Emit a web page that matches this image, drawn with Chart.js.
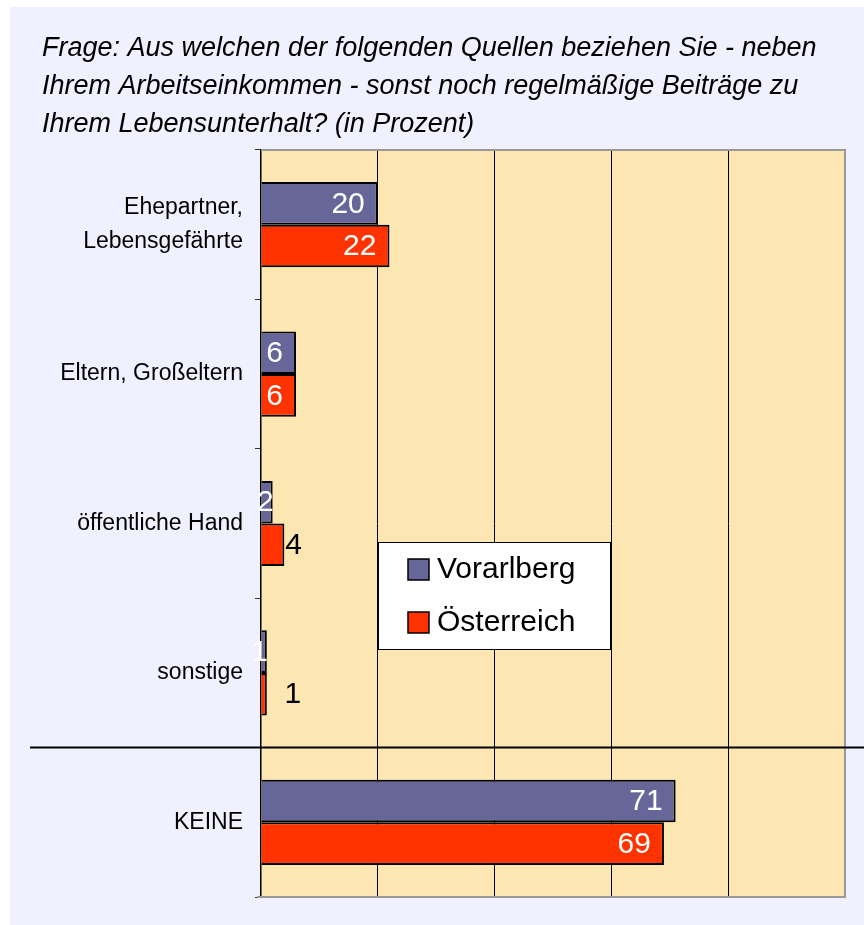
<!DOCTYPE html>
<html>
<head>
<meta charset="utf-8">
<script src="https://cdn.jsdelivr.net/npm/chart.js@4.4.0/dist/chart.umd.min.js"></script>
<style>
  html, body { margin: 0; padding: 0; background: #fff; }
  #chart { display: block; }
</style>
</head>
<body>
<canvas id="chart" width="864" height="925"></canvas>
<script>
// Daten
const titleLines = [
  'Frage: Aus welchen der folgenden Quellen beziehen Sie - neben',
  'Ihrem Arbeitseinkommen - sonst noch regelmäßige Beiträge zu',
  'Ihrem Lebensunterhalt? (in Prozent)'
];
const categories = [['Ehepartner,', 'Lebensgefährte'], 'Eltern, Großeltern', 'öffentliche Hand', 'sonstige', 'KEINE'];
const seriesNames = ['Vorarlberg', 'Österreich'];
const vorarlberg = [20, 6, 2, 1, 71];
const oesterreich = [22, 6, 4, 1, 69];
const xTicks = [0, 20, 40, 60, 80, 100];

const FONT = '"Liberation Sans", Arial, sans-serif';
const colors = ['#666699', '#FF3300'];

// Hintergrund + Plotfläche
const background = {
  id: 'background',
  beforeDraw(chart) {
    const { ctx, chartArea: a } = chart;
    ctx.save();
    ctx.fillStyle = '#fff';
    ctx.fillRect(0, 0, chart.width, chart.height);
    ctx.fillStyle = '#F0F0FF';
    ctx.fillRect(10, 7, chart.width - 10, chart.height - 7);
    ctx.fillStyle = '#FCE7B2';
    ctx.fillRect(a.left, a.top, a.right - a.left, a.bottom - a.top);
    ctx.restore();
  }
};

// grauer Rahmen oben/rechts/unten
const frame = {
  id: 'frame',
  beforeDatasetsDraw(chart) {
    const { ctx, chartArea: a } = chart;
    ctx.save();
    ctx.strokeStyle = '#999';
    ctx.lineWidth = 2;
    ctx.beginPath();
    ctx.moveTo(a.left, a.top);
    ctx.lineTo(a.right, a.top);
    ctx.lineTo(a.right, a.bottom);
    ctx.lineTo(a.left - 4, a.bottom);
    ctx.stroke();
    ctx.restore();
  }
};

// Trennlinie vor "KEINE"
const separator = {
  id: 'separator',
  afterDatasetsDraw(chart) {
    const { ctx } = chart;
    const y = chart.scales.y;
    const py = (y.getPixelForValue(3) + y.getPixelForValue(4)) / 2;
    ctx.save();
    ctx.strokeStyle = '#000';
    ctx.lineWidth = 2;
    ctx.beginPath();
    ctx.moveTo(30, py);
    ctx.lineTo(chart.width, py);
    ctx.stroke();
    ctx.restore();
  }
};

// Wertebeschriftung
const valueLabels = {
  id: 'valueLabels',
  afterDatasetsDraw(chart) {
    const { ctx } = chart;
    ctx.save();
    ctx.font = '30px ' + FONT;
    ctx.textBaseline = 'middle';
    chart.data.datasets.forEach((ds, di) => {
      chart.getDatasetMeta(di).data.forEach((el, i) => {
        const v = ds.data[i];
        if (v >= 5) {
          ctx.fillStyle = '#fff';
          ctx.textAlign = 'right';
          ctx.fillText(String(v), el.x - 13, el.y + 1);
        } else if (di === 0) {
          ctx.fillStyle = '#fff';
          ctx.textAlign = 'right';
          ctx.fillText(String(v), el.x + 1, el.y + 1);
        } else {
          ctx.fillStyle = '#000';
          ctx.textAlign = 'left';
          ctx.fillText(String(v), Math.max(el.x, el.base + 22) + 1, el.y + 1);
        }
      });
    });
    ctx.restore();
  }
};

// Legende im Diagramm
const boxLegend = {
  id: 'boxLegend',
  afterDraw(chart) {
    const { ctx } = chart;
    const bx = 378, by = 542, bw = 232, bh = 107;
    ctx.save();
    ctx.fillStyle = '#fff';
    ctx.fillRect(bx, by, bw, bh);
    ctx.strokeStyle = '#000';
    ctx.lineWidth = 1;
    ctx.strokeRect(bx + 0.5, by + 0.5, bw, bh);
    ctx.font = '30px ' + FONT;
    ctx.textBaseline = 'middle';
    ctx.textAlign = 'left';
    chart.data.datasets.forEach((ds, i) => {
      const cy = by + 27 + i * 53;
      ctx.fillStyle = ds.backgroundColor;
      ctx.fillRect(bx + 30, cy - 10, 21, 21);
      ctx.lineWidth = 1.5;
      ctx.strokeStyle = '#000';
      ctx.strokeRect(bx + 30, cy - 10, 21, 21);
      ctx.fillStyle = '#000';
      ctx.fillText(ds.label, bx + 59, cy + 1);
    });
    ctx.restore();
  }
};

new Chart(document.getElementById('chart'), {
  type: 'bar',
  data: {
    labels: categories,
    datasets: [
      { label: seriesNames[0], data: vorarlberg, backgroundColor: colors[0] },
      { label: seriesNames[1], data: oesterreich, backgroundColor: colors[1] }
    ]
  },
  options: {
    indexAxis: 'y',
    responsive: false,
    animation: false,
    layout: { padding: { left: 42, right: 19, top: 0, bottom: 28 } },
    datasets: {
      bar: {
        categoryPercentage: 0.57,
        barPercentage: 1.0,
        borderColor: '#000',
        borderWidth: 2
      }
    },
    scales: {
      x: {
        min: xTicks[0],
        max: xTicks[xTicks.length - 1],
        afterBuildTicks(s) { s.ticks = xTicks.map(v => ({ value: v })); },
        ticks: { display: false },
        border: { display: false },
        grid: {
          drawTicks: false,
          lineWidth: 1,
          color: c => (c.tick && (c.tick.value === 0 || c.tick.value === 100)) ? 'rgba(0,0,0,0)' : '#000'
        }
      },
      y: {
        afterFit(s) {
          s.width = 219;
          s.paddingTop = 0;
          s.paddingBottom = 0;
        },
        border: { display: true, color: '#000', width: 1.5 },
        grid: {
          offset: true,
          drawOnChartArea: false,
          drawTicks: true,
          tickLength: 6,
          color: '#333'
        },
        ticks: {
          color: '#000',
          padding: 12,
          font: { family: FONT, size: 23, lineHeight: 1.5 }
        }
      }
    },
    plugins: {
      legend: { display: false },
      tooltip: { enabled: false },
      title: {
        display: true,
        text: titleLines,
        align: 'start',
        color: '#000',
        font: { family: FONT, size: 27, style: 'italic', weight: 'normal', lineHeight: 38 / 27 },
        padding: { top: 29, bottom: 7 }
      }
    }
  },
  plugins: [background, frame, separator, valueLabels, boxLegend]
});
</script>
</body>
</html>
